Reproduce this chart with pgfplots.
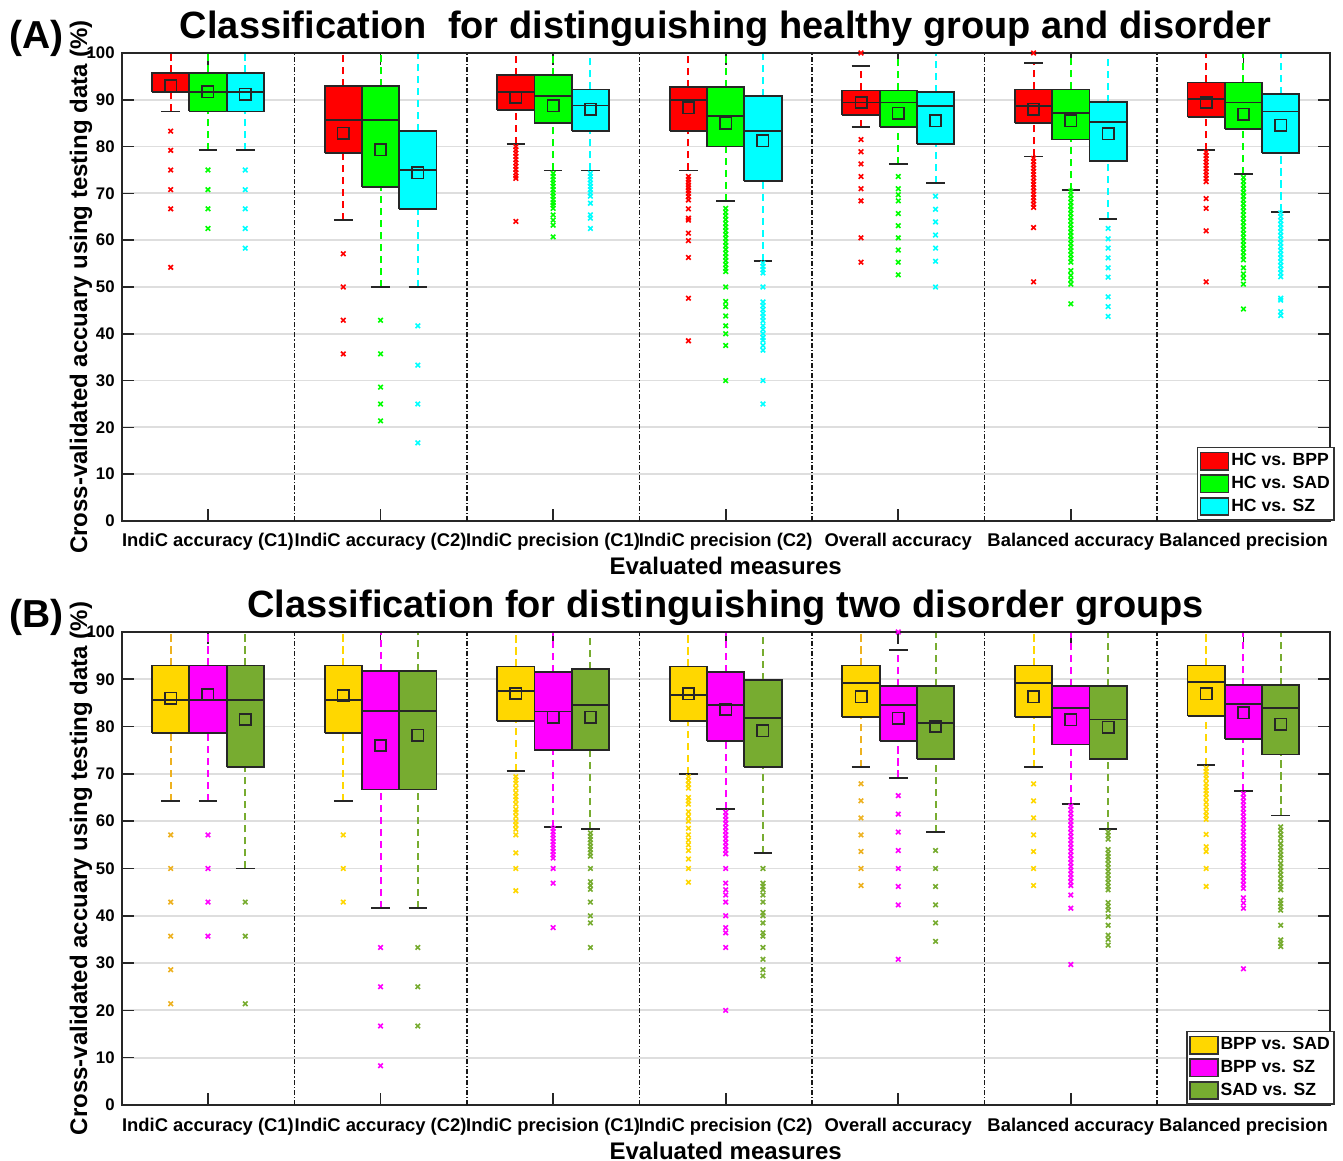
\documentclass[border=0pt]{standalone}
\usepackage{pgfplots}
\pgfplotsset{compat=1.18}
\usepackage{fontspec}
\setmainfont{Liberation Sans}
\definecolor{cR}{RGB}{255,0,0}
\definecolor{cG}{RGB}{0,255,0}
\definecolor{cC}{RGB}{0,255,255}
\definecolor{cY}{RGB}{255,215,0}
\definecolor{cYo}{RGB}{237,177,32}
\definecolor{cM}{RGB}{255,0,255}
\definecolor{cO}{RGB}{119,172,48}
% #1 fill, #2 whisker colour, #3 position, #4 lower whisker, #5 lower quartile,
% #6 median, #7 upper quartile, #8 upper whisker, #9 mean
\newcommand{\bxp}[9]{%
  \pgfmathsetmacro\bxl{#3-0.108}%
  \pgfmathsetmacro\bxr{#3+0.108}%
  \pgfmathsetmacro\bcl{#3-0.054}%
  \pgfmathsetmacro\bcr{#3+0.054}%
  \addplot[forget plot, draw=#2, line width=0.95pt, dash pattern=on 3.6pt off 2.4pt] coordinates {(#3,#4) (#3,#5)};
  \addplot[forget plot, draw=#2, line width=0.95pt, dash pattern=on 3.6pt off 2.4pt] coordinates {(#3,#7) (#3,#8)};
  \addplot[forget plot, draw=black!85, line width=0.9pt] coordinates {(\bcl,#4) (\bcr,#4)};
  \addplot[forget plot, draw=black!85, line width=0.9pt] coordinates {(\bcl,#8) (\bcr,#8)};
  \addplot[forget plot, fill=#1, draw=black!85, line width=0.9pt, line join=miter] coordinates {(\bxl,#5) (\bxr,#5) (\bxr,#7) (\bxl,#7) (\bxl,#5)};
  \addplot[forget plot, draw=black!85, line width=0.9pt] coordinates {(\bxl,#6) (\bxr,#6)};
  \addplot[forget plot, only marks, mark=square, mark size=2.85pt, mark options={draw=black!85, fill=none, line width=0.8pt, solid}] coordinates {(#3,#9)};
}
% outliers: #1 colour, #2 position, #3 values
\newcommand{\outl}[3]{%
  \addplot[forget plot, only marks, mark=x, mark size=1.6pt, mark options={draw=#1, line width=0.8pt}] table[row sep=\\, x expr=#2, y index=0]{d\\#3};
}
\pgfplotsset{
  leg/.style={legend image code/.code={\draw[fill=#1, draw=black!80, line width=0.8pt] (0pt,-4.3pt) rectangle (14pt,4.4pt);}},
  panel/.style={
    scale only axis, width=604pt, clip=false,
    xmin=0.5, xmax=7.5, ymin=0, ymax=100,
    ytick={0,10,...,100},
    xtick={1,2,3,4,5,6,7},
    xticklabels={IndiC accuracy (C1), IndiC accuracy (C2), IndiC precision (C1), IndiC precision (C2), Overall accuracy, Balanced accuracy, Balanced precision},
    ymajorgrids, major grid style={draw=black!13, line width=0.9pt},
    extra x ticks={1.5,2.5,3.5,4.5,5.5,6.5},
    extra x tick labels={,,,,,},
    extra x tick style={major tick length=0pt, xmajorgrids=true,
      major grid style={draw=black!90, line width=0.7pt, dash pattern=on 2.5pt off 1pt on 0.6pt off 1pt}},
    tick align=inside, major tick length=6pt,
    tick style={black!85, line width=0.8pt},
    axis line style={black!85, line width=1pt},
    /pgf/number format/assume math mode=true,
    xticklabel style={font=\bfseries\fontsize{9.2}{11}\selectfont, anchor=base, yshift=-13pt},
    yticklabel style={font=\bfseries\fontsize{8.4}{10}\selectfont},
    xlabel={Evaluated measures},
    ylabel={Cross-validated accuary using testing data (\%)},
    label style={font=\bfseries\fontsize{12}{14}\selectfont},
    xlabel style={at={(axis description cs:0.5,0)}, anchor=base, yshift=-27pt},
    ylabel style={at={(axis description cs:-0.024,0.5)}, anchor=south, inner sep=0pt},
    title style={font=\bfseries\fontsize{19}{22}\selectfont, at={(0.5,1)}, anchor=base, inner sep=0pt, yshift=1pt},
    legend style={at={(1.004,0)}, anchor=south east, font=\bfseries\fontsize{8.8}{10}\selectfont,
      draw=black!80, line width=0.8pt, inner sep=1pt, row sep=-0.3pt, nodes={inner xsep=1pt}},
    legend cell align=left,
  },
}
\begin{document}
\begin{tikzpicture}
\useasboundingbox (-60.85pt,-28pt) rectangle (610.65pt,552.5pt);
% ================= TOP PANEL =================
\begin{axis}[panel, at={(0,292pt)}, anchor=south west, height=234pt,
  title={Classification\ \ for distinguishing healthy group and disorder}]
% G1
\bxp{cR}{cR}{0.784}{87.5}{91.7}{91.7}{95.8}{100}{93.0}
\outl{cR}{0.784}{83.3\\79.2\\75.0\\70.8\\66.7\\54.2\\}
\bxp{cG}{cG}{1}{79.2}{87.5}{91.7}{95.8}{100}{91.7}
\outl{cG}{1}{75.0\\70.8\\66.7\\62.5\\}
\bxp{cC}{cC}{1.216}{79.2}{87.5}{91.7}{95.8}{100}{91.2}
\outl{cC}{1.216}{75.0\\70.8\\66.7\\62.5\\58.3\\}
% G2
\bxp{cR}{cR}{1.784}{64.3}{78.6}{85.7}{92.9}{100}{82.9}
\outl{cR}{1.784}{57.1\\50.0\\42.9\\35.7\\}
\bxp{cG}{cG}{2}{50.0}{71.4}{85.7}{92.9}{100}{79.3}
\outl{cG}{2}{42.9\\35.7\\28.6\\25.0\\21.4\\}
\bxp{cC}{cC}{2.216}{50.0}{66.7}{75.0}{83.3}{100}{74.4}
\outl{cC}{2.216}{41.7\\33.3\\25.0\\16.7\\}
% G3
\bxp{cR}{cR}{2.784}{80.6}{87.9}{91.6}{95.3}{100}{90.5}
\outl{cR}{2.784}{80.0\\79.3\\78.6\\77.9\\77.2\\76.5\\75.8\\75.1\\74.4\\73.7\\73.2\\64.0\\}
\bxp{cG}{cG}{3}{74.9}{85.1}{90.8}{95.3}{100}{88.7}
\outl{cG}{3}{74.3\\73.6\\72.9\\72.2\\71.5\\70.8\\70.1\\69.4\\68.7\\68.0\\67.5\\66.8\\65.4\\64.3\\63.2\\60.7\\}
\bxp{cC}{cC}{3.216}{74.9}{83.3}{88.8}{92.2}{100}{88.0}
\outl{cC}{3.216}{74.3\\73.6\\72.9\\72.2\\71.5\\70.8\\70.1\\69.4\\67.9\\65.4\\64.7\\62.5\\}
% G4
\bxp{cR}{cR}{3.784}{74.9}{83.3}{90.0}{92.7}{100}{88.3}
\outl{cR}{3.784}{73.6\\73.0\\72.4\\71.8\\71.2\\70.6\\70.0\\69.3\\68.6\\66.7\\64.7\\64.3\\61.5\\59.9\\56.3\\47.6\\38.5\\}
\bxp{cG}{cG}{4}{68.4}{80.0}{86.6}{92.7}{100}{85.0}
\outl{cG}{4}{66.8\\66.0\\65.2\\64.4\\63.6\\62.8\\62.0\\61.2\\60.4\\59.6\\58.8\\58.0\\57.2\\56.4\\55.6\\54.8\\54.0\\53.3\\50.0\\46.9\\45.8\\43.8\\41.7\\40.0\\37.5\\30.0\\}
\bxp{cC}{cC}{4.216}{55.6}{72.7}{83.3}{90.8}{100}{81.2}
\outl{cC}{4.216}{55.1\\54.4\\53.7\\53.0\\50.0\\46.8\\46.0\\45.2\\44.4\\43.6\\42.8\\41.7\\40.9\\40.0\\39.2\\38.6\\37.5\\36.5\\30.0\\25.0\\}
% G5
\bxp{cR}{cR}{4.784}{84.2}{86.8}{89.4}{92.0}{97.3}{89.4}
\outl{cR}{4.784}{100\\81.5\\78.9\\76.3\\73.6\\71.0\\68.4\\60.5\\55.3\\}
\bxp{cG}{cG}{5}{76.3}{84.2}{89.4}{92.0}{100}{87.1}
\outl{cG}{5}{73.6\\71.0\\69.7\\68.4\\65.7\\63.1\\60.5\\57.9\\55.3\\52.6\\}
\bxp{cC}{cC}{5.216}{72.2}{80.6}{88.7}{91.6}{100}{85.5}
\outl{cC}{5.216}{69.4\\66.6\\63.9\\61.1\\58.3\\55.5\\50.0\\}
% G6
\bxp{cR}{cR}{5.784}{77.9}{85.0}{88.7}{92.2}{97.9}{88.0}
\outl{cR}{5.784}{100\\77.5\\76.8\\76.1\\75.4\\74.7\\74.0\\73.3\\72.6\\71.9\\71.2\\70.5\\69.8\\69.1\\68.4\\67.7\\67.0\\62.7\\51.1\\}
\bxp{cG}{cG}{6}{70.7}{81.5}{87.1}{92.2}{100}{85.5}
\outl{cG}{6}{70.5\\69.7\\68.9\\68.1\\67.3\\66.5\\65.7\\64.9\\64.1\\63.3\\62.5\\61.7\\60.9\\60.1\\59.3\\58.5\\57.7\\56.9\\56.1\\55.3\\53.5\\52.5\\51.5\\50.6\\46.4\\}
\bxp{cC}{cC}{6.216}{64.5}{77.0}{85.3}{89.5}{100}{82.7}
\outl{cC}{6.216}{62.5\\60.3\\58.3\\56.2\\54.1\\52.1\\47.9\\45.8\\43.7\\}
% G7
\bxp{cR}{cR}{6.784}{79.2}{86.3}{90.1}{93.7}{100}{89.4}
\outl{cR}{6.784}{78.8\\78.1\\77.4\\76.7\\76.0\\75.3\\74.6\\73.9\\73.2\\72.5\\68.9\\66.8\\62.0\\51.1\\}
\bxp{cG}{cG}{7}{74.1}{83.7}{89.4}{93.7}{100}{86.9}
\outl{cG}{7}{73.4\\72.6\\71.8\\71.0\\70.2\\69.4\\68.6\\67.8\\67.0\\66.2\\65.4\\64.6\\63.8\\63.0\\62.2\\61.4\\60.6\\59.8\\59.0\\58.2\\57.4\\56.6\\55.8\\54.1\\52.8\\51.9\\50.6\\45.3\\}
\bxp{cC}{cC}{7.216}{66.1}{78.6}{87.5}{91.3}{100}{84.6}
\outl{cC}{7.216}{65.8\\65.0\\64.2\\63.4\\62.6\\61.8\\61.0\\60.2\\59.4\\58.6\\57.8\\57.0\\56.2\\55.4\\54.6\\53.8\\53.0\\52.2\\47.6\\47.2\\44.7\\43.9\\}
\addlegendimage{leg=cR}\addlegendentry{HC vs. BPP}
\addlegendimage{leg=cG}\addlegendentry{HC vs. SAD}
\addlegendimage{leg=cC}\addlegendentry{HC vs. SZ}
\node[anchor=base west, inner sep=0pt, xshift=-56.5pt, yshift=2pt, font=\bfseries\fontsize{19.5}{22}\selectfont] at (rel axis cs:0,1) {(A)};
\end{axis}
% ================= BOTTOM PANEL =================
\begin{axis}[panel, at={(0,0)}, anchor=south west, height=236.5pt,
  title={Classification for distinguishing two disorder groups}]
% G1
\bxp{cY}{cYo}{0.784}{64.3}{78.6}{85.7}{92.9}{100}{86.0}
\outl{cYo}{0.784}{57.1\\50.0\\42.9\\35.7\\28.6\\21.4\\}
\bxp{cM}{cM}{1}{64.3}{78.6}{85.7}{92.9}{100}{86.7}
\outl{cM}{1}{57.1\\50.0\\42.9\\35.7\\}
\bxp{cO}{cO}{1.216}{50.0}{71.4}{85.7}{92.9}{100}{81.5}
\outl{cO}{1.216}{42.9\\35.7\\21.4\\}
% G2
\bxp{cY}{cY}{1.784}{64.3}{78.6}{85.7}{92.9}{100}{86.5}
\outl{cY}{1.784}{57.1\\50.0\\42.9\\}
\bxp{cM}{cM}{2}{41.7}{66.7}{83.3}{91.7}{100}{76.0}
\outl{cM}{2}{33.3\\25.0\\16.7\\8.3\\}
\bxp{cO}{cO}{2.216}{41.7}{66.7}{83.3}{91.7}{100}{78.2}
\outl{cO}{2.216}{33.3\\25.0\\16.7\\}
% G3
\bxp{cY}{cY}{2.784}{70.6}{81.2}{87.5}{92.7}{100}{87.0}
\outl{cY}{2.784}{69.4\\68.7\\68.0\\67.0\\66.0\\65.2\\64.5\\63.6\\62.5\\61.9\\61.0\\60.0\\59.2\\58.3\\57.1\\53.3\\50.0\\45.3\\}
\bxp{cM}{cM}{3}{58.8}{75.0}{83.2}{91.5}{100}{82.0}
\outl{cM}{3}{58.5\\57.8\\57.1\\56.4\\55.7\\55.0\\54.3\\53.6\\52.9\\52.2\\50.0\\46.9\\37.5\\}
\bxp{cO}{cO}{3.216}{58.3}{75.0}{84.6}{92.2}{100}{82.0}
\outl{cO}{3.216}{57.5\\56.8\\56.1\\55.4\\54.7\\54.0\\53.3\\52.6\\50.0\\47.2\\46.4\\45.6\\42.9\\40.0\\38.5\\33.3\\}
% G4
\bxp{cY}{cY}{3.784}{70.0}{81.2}{86.7}{92.7}{100}{86.9}
\outl{cY}{3.784}{69.4\\68.6\\67.8\\67.0\\65.0\\64.3\\63.6\\62.0\\61.0\\60.0\\58.5\\57.1\\56.0\\55.0\\53.8\\52.0\\50.0\\47.1\\}
\bxp{cM}{cM}{4}{62.5}{77.0}{84.6}{91.5}{100}{83.7}
\outl{cM}{4}{61.9\\61.1\\60.3\\59.5\\58.7\\57.9\\57.1\\56.3\\55.5\\54.7\\53.9\\53.1\\50.0\\46.9\\45.5\\44.4\\42.9\\40.0\\37.5\\36.4\\33.3\\20.0\\}
\bxp{cO}{cO}{4.216}{53.3}{71.4}{81.8}{89.9}{100}{79.1}
\outl{cO}{4.216}{50.0\\46.9\\46.2\\45.5\\44.4\\42.9\\40.7\\40.0\\38.5\\36.4\\35.7\\33.3\\30.8\\28.6\\27.3\\}
% G5
\bxp{cY}{cYo}{4.784}{71.4}{82.1}{89.3}{92.9}{100}{86.3}
\outl{cYo}{4.784}{67.9\\64.3\\60.7\\57.1\\53.6\\50.0\\46.4\\}
\bxp{cM}{cM}{5}{69.2}{76.9}{84.6}{88.5}{96.2}{81.8}
\outl{cM}{5}{100\\65.4\\61.5\\57.7\\53.8\\50.0\\46.2\\42.3\\30.8\\}
\bxp{cO}{cO}{5.216}{57.7}{73.1}{80.8}{88.5}{100}{80.0}
\outl{cO}{5.216}{53.8\\50.0\\46.2\\42.3\\38.5\\34.6\\}
% G6
\bxp{cY}{cY}{5.784}{71.4}{82.1}{89.3}{92.9}{100}{86.3}
\outl{cY}{5.784}{67.9\\64.3\\60.7\\57.1\\53.6\\50.0\\46.4\\}
\bxp{cM}{cM}{6}{63.6}{76.2}{83.9}{88.6}{100}{81.4}
\outl{cM}{6}{63.2\\62.4\\61.6\\60.8\\60.0\\59.2\\58.4\\57.6\\56.8\\56.0\\55.2\\54.4\\53.6\\52.8\\52.0\\51.2\\50.4\\49.6\\48.8\\48.0\\47.2\\46.4\\44.4\\41.6\\29.7\\}
\bxp{cO}{cO}{6.216}{58.3}{73.1}{81.5}{88.6}{100}{79.9}
\outl{cO}{6.216}{57.7\\57.0\\56.2\\54.0\\53.2\\52.5\\51.8\\51.0\\50.2\\49.4\\48.6\\47.8\\47.0\\46.2\\45.5\\42.8\\42.0\\41.2\\39.8\\38.0\\35.9\\35.0\\33.8\\}
% G7
\bxp{cY}{cY}{6.784}{71.8}{82.3}{89.5}{92.9}{100}{86.9}
\outl{cY}{6.784}{71.2\\70.5\\69.8\\69.0\\68.0\\67.2\\66.5\\65.8\\65.0\\64.0\\63.0\\62.0\\61.2\\60.4\\57.2\\54.6\\53.6\\50.0\\46.2\\}
\bxp{cM}{cM}{7}{66.4}{77.4}{84.8}{88.8}{100}{82.9}
\outl{cM}{7}{65.8\\65.0\\64.2\\63.4\\62.6\\61.8\\61.0\\60.2\\59.4\\58.6\\57.8\\57.0\\56.2\\55.4\\54.6\\53.8\\53.0\\52.2\\51.4\\50.6\\49.8\\49.0\\48.2\\47.4\\46.6\\45.8\\43.8\\42.7\\41.6\\28.8\\}
\bxp{cO}{cO}{7.216}{61.2}{74.1}{83.9}{88.8}{100}{80.5}
\outl{cO}{7.216}{58.8\\58.0\\57.2\\56.4\\55.3\\54.5\\53.7\\52.9\\52.2\\51.1\\50.3\\49.5\\48.7\\47.9\\46.9\\46.2\\45.5\\43.3\\42.6\\41.9\\41.2\\38.0\\34.9\\34.2\\33.5\\}
\addlegendimage{leg=cY}\addlegendentry{BPP vs. SAD}
\addlegendimage{leg=cM}\addlegendentry{BPP vs. SZ}
\addlegendimage{leg=cO}\addlegendentry{SAD vs. SZ}
\node[anchor=base west, inner sep=0pt, xshift=-56.5pt, yshift=2pt, font=\bfseries\fontsize{19.5}{22}\selectfont] at (rel axis cs:0,1) {(B)};
\end{axis}
\end{tikzpicture}
\end{document}
